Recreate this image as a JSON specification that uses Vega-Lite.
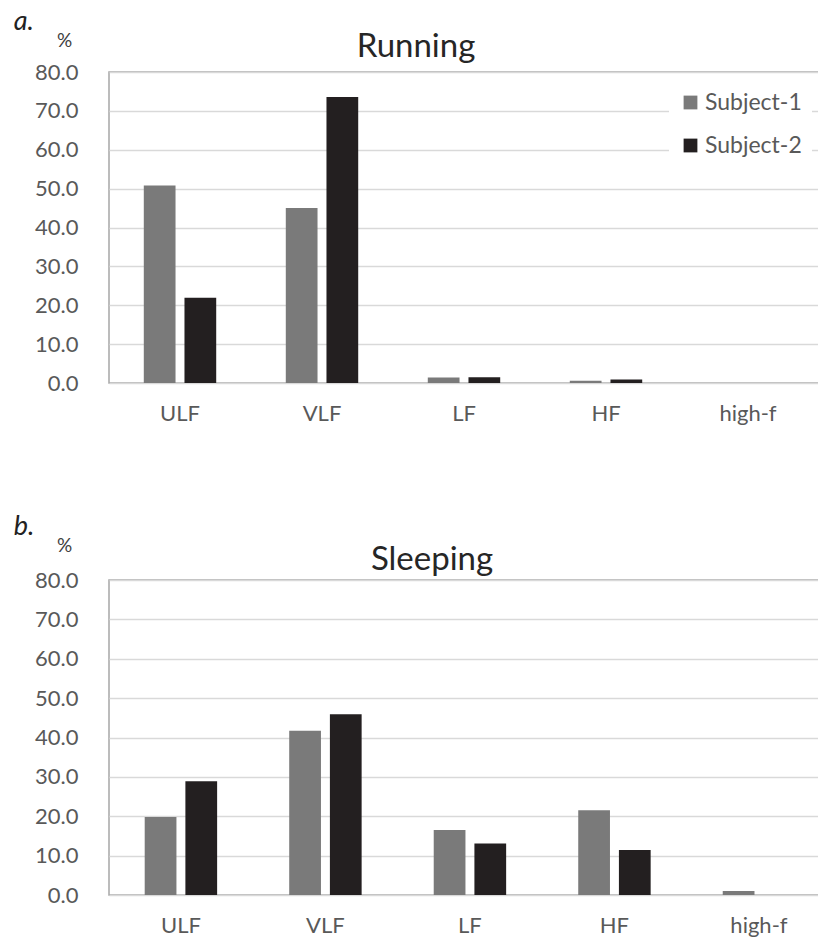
{
  "$schema": "https://vega.github.io/schema/vega-lite/v6.json",
  "background": "white",
  "padding": {"left": 13, "top": 8, "right": 0, "bottom": 0},
  "config": {
    "font": "Lato",
    "view": {"stroke": "#a6a6a6", "strokeWidth": 1.5},
    "axis": {"labelFont": "Lato", "labelFontSize": 22, "labelColor": "#595959", "ticks": false, "domain": false, "titleFont": "Lato"},
    "title": {"font": "Lato", "fontWeight": "normal", "color": "#262626"},
    "legend": {"orient": "none", "labelFont": "Lato", "labelFontSize": 23, "labelColor": "#595959", "symbolType": "square", "symbolSize": 190, "symbolStrokeWidth": 0, "padding": 10, "fillColor": "white", "labelOffset": 3},
    "concat": {"spacing": 88}
  },
  "datasets": {
    "running": [
      {"band": "ULF", "subject": "Subject-1", "pct": 50.8},
      {"band": "ULF", "subject": "Subject-2", "pct": 21.9},
      {"band": "VLF", "subject": "Subject-1", "pct": 45.0},
      {"band": "VLF", "subject": "Subject-2", "pct": 73.6},
      {"band": "LF", "subject": "Subject-1", "pct": 1.4},
      {"band": "LF", "subject": "Subject-2", "pct": 1.5},
      {"band": "HF", "subject": "Subject-1", "pct": 0.6},
      {"band": "HF", "subject": "Subject-2", "pct": 0.9},
      {"band": "high-f", "subject": "Subject-1", "pct": 0.0},
      {"band": "high-f", "subject": "Subject-2", "pct": 0.0}
    ],
    "sleeping": [
      {"band": "ULF", "subject": "Subject-1", "pct": 19.8},
      {"band": "ULF", "subject": "Subject-2", "pct": 28.9},
      {"band": "VLF", "subject": "Subject-1", "pct": 41.7},
      {"band": "VLF", "subject": "Subject-2", "pct": 45.9},
      {"band": "LF", "subject": "Subject-1", "pct": 16.5},
      {"band": "LF", "subject": "Subject-2", "pct": 13.1},
      {"band": "HF", "subject": "Subject-1", "pct": 21.5},
      {"band": "HF", "subject": "Subject-2", "pct": 11.4},
      {"band": "high-f", "subject": "Subject-1", "pct": 1.0},
      {"band": "high-f", "subject": "Subject-2", "pct": 0.0}
    ]
  },
  "vconcat": [
    {
      "title": {"text": "a.", "anchor": "start", "fontSize": 27, "fontStyle": "italic", "color": "#222222", "frame": "bounds", "offset": 0, "dx": -20, "dy": 6},
      "vconcat": [
        {
          "title": {"text": "Running", "fontSize": 33, "anchor": "middle", "frame": "group", "dx": -48, "dy": 33, "offset": 0},
          "width": 710,
          "height": 311,
          "data": {"name": "running"},
          "mark": {"type": "bar"},
          "encoding": {
            "x": {"field": "band", "type": "nominal", "sort": ["ULF", "VLF", "LF", "HF", "high-f"], "scale": {"paddingInner": 0.49, "paddingOuter": 0.245}, "axis": {"title": null, "labelAngle": 0, "labelPadding": 20}},
            "xOffset": {"field": "subject", "type": "nominal", "scale": {"paddingInner": 0.22, "paddingOuter": 0}},
            "y": {"field": "pct", "type": "quantitative", "scale": {"domain": [0, 80]}, "axis": {"values": [0, 10, 20, 30, 40, 50, 60, 70, 80], "format": ".1f", "grid": true, "gridColor": "#d9d9d9", "gridWidth": 1.5, "labelPadding": 31, "title": "%", "titleAngle": 0, "titleX": -45, "titleY": -32, "titleAlign": "center", "titleBaseline": "middle", "titleFontSize": 19, "titleFontWeight": "normal", "titleColor": "#404040"}},
            "color": {"field": "subject", "type": "nominal", "scale": {"domain": ["Subject-1", "Subject-2"], "range": ["#7a7a7a", "#231f20"]}, "legend": {"title": null, "legendX": 560, "legendY": 9, "rowPadding": 19}}
          }
        }
      ]
    },
    {
      "title": {"text": "b.", "anchor": "start", "fontSize": 27, "fontStyle": "italic", "color": "#222222", "frame": "bounds", "offset": 0, "dx": -20, "dy": 6},
      "vconcat": [
        {
          "title": {"text": "Sleeping", "fontSize": 33, "anchor": "middle", "frame": "group", "dx": -33, "dy": 41, "offset": 0},
          "width": 712,
          "height": 315,
          "data": {"name": "sleeping"},
          "mark": {"type": "bar"},
          "encoding": {
            "x": {"field": "band", "type": "nominal", "sort": ["ULF", "VLF", "LF", "HF", "high-f"], "scale": {"paddingInner": 0.499, "paddingOuter": 0.213, "align": 0.58}, "axis": {"title": null, "labelAngle": 0, "labelPadding": 20}},
            "xOffset": {"field": "subject", "type": "nominal", "scale": {"paddingInner": 0.22, "paddingOuter": 0}},
            "y": {"field": "pct", "type": "quantitative", "scale": {"domain": [0, 80]}, "axis": {"values": [0, 10, 20, 30, 40, 50, 60, 70, 80], "format": ".1f", "grid": true, "gridColor": "#d9d9d9", "gridWidth": 1.5, "labelPadding": 31, "title": "%", "titleAngle": 0, "titleX": -45, "titleY": -35, "titleAlign": "center", "titleBaseline": "middle", "titleFontSize": 19, "titleFontWeight": "normal", "titleColor": "#404040"}},
            "color": {"field": "subject", "type": "nominal", "scale": {"domain": ["Subject-1", "Subject-2"], "range": ["#7a7a7a", "#231f20"]}, "legend": {"title": null, "legendX": 570, "legendY": 5, "rowPadding": 22}}
          }
        }
      ]
    }
  ]
}
